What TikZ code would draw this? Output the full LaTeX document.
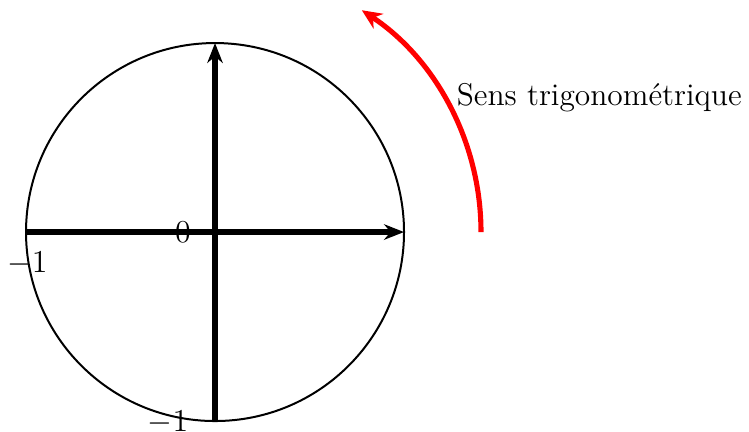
\documentclass[tikz,border=0pt]{standalone}
\usetikzlibrary{arrows.meta}
\begin{document}
\begin{tikzpicture}[x=1cm,y=1cm,font=\fontsize{14.2}{17}\selectfont,
  axe/.style={line width=2.3pt,-{Stealth[length=9pt,width=7pt]}}]
\useasboundingbox (-3.413,-3.159) rectangle (8.476,3.683);
\draw[line width=0.9pt] (0,0) circle (3);
\coordinate (O) at (0,0);
\coordinate (xm) at (-3,0);
\coordinate (xp) at (3,0);
\coordinate (ym) at (0,-3);
\coordinate (yp) at (0,3);
\draw[axe] (xm) -- (xp);
\draw[axe] (ym) -- (yp);
\node (zero) at (-0.51,0) {$0$};
\node (moinsx) at (-2.98,-0.5) {$-1$};
\node[anchor=east,inner sep=0pt] (moinsy) at (-0.42,-3.02) {$-1$};
\draw[red,line width=2.3pt,-{Stealth[length=9pt,width=8pt]}] (4.222,0) arc (0:56.5:4.222);
\node[anchor=west,inner sep=0pt] (sens) at (3.83,2.14) {Sens trigonométrique};
\end{tikzpicture}
\end{document}
